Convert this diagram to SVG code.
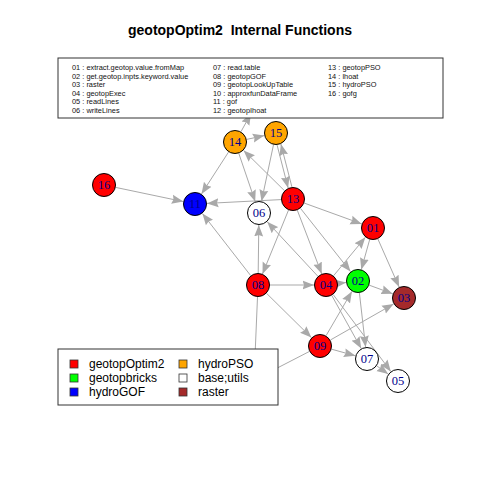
<svg xmlns="http://www.w3.org/2000/svg" width="480" height="480" viewBox="0 0 480 480">
<style>
.e{stroke:#A9A9A9;stroke-width:1;fill:none}
.ea{stroke:#A9A9A9;stroke-width:1;fill:none;marker-end:url(#arr)}
.n{stroke:#000;stroke-width:1}
.nl{font-family:"Liberation Serif",serif;font-size:12.5px;fill:#00008B;text-anchor:middle}
.lg{font-family:"Liberation Sans",Arial,sans-serif;font-size:7.4px;fill:#111}
.lg2{font-family:"Liberation Sans",Arial,sans-serif;font-size:12px;fill:#000}
.box{fill:#fff;stroke:#333;stroke-width:1}
.sq{stroke:#333;stroke-width:0.8}
</style>
<defs>
<marker id="arr" markerUnits="userSpaceOnUse" markerWidth="12" markerHeight="10" viewBox="0 0 12 10" refX="11.5" refY="5" orient="auto">
<path d="M0,0.5 L11.5,5 L0,9.5 L1.5,5 z" fill="#A9A9A9"/>
</marker>
</defs>
<rect width="480" height="480" fill="#fff"/>
<text x="240" y="35" style="white-space:pre" font-family="'Liberation Sans',Arial,sans-serif" font-size="14" font-weight="bold" text-anchor="middle">geotopOptim2  Internal Functions</text>
<g id="edges">
<line class="ea" x1="115.7" y1="187.4" x2="183.3" y2="201.6"/>
<line class="ea" x1="228.5" y1="152.1" x2="201.5" y2="193.9"/>
<line class="ea" x1="281.0" y1="199.6" x2="207.0" y2="203.4"/>
<line class="ea" x1="250.6" y1="275.5" x2="202.4" y2="213.5"/>
<line class="ea" x1="238.8" y1="153.4" x2="255.2" y2="201.6"/>
<line class="ea" x1="273.5" y1="144.7" x2="261.5" y2="201.3"/>
<line class="ea" x1="258.2" y1="273" x2="258.8" y2="225"/>
<line class="ea" x1="317.8" y1="276.2" x2="267.2" y2="221.8"/>
<line class="ea" x1="291.9" y1="186.9" x2="280.9" y2="144.1"/>
<line class="ea" x1="277.1" y1="145.1" x2="288.1" y2="187.9"/>
<line class="ea" x1="284.4" y1="190.6" x2="243.6" y2="150.4"/>
<line class="ea" x1="246.7" y1="139.4" x2="264.3" y2="135.6"/>
<line class="ea" x1="241.0" y1="131.6" x2="251.0" y2="113.6"/>
<line class="ea" x1="288.5" y1="210.1" x2="262.5" y2="273.9"/>
<line class="ea" x1="297.3" y1="210.2" x2="321.7" y2="273.8"/>
<line class="ea" x1="300.5" y1="208.4" x2="350.5" y2="271.6"/>
<line class="ea" x1="304.3" y1="203.1" x2="361.7" y2="223.9"/>
<line class="ea" x1="333.6" y1="275.7" x2="365.4" y2="237.3"/>
<line class="ea" x1="369.7" y1="239.5" x2="361.3" y2="269.5"/>
<line class="ea" x1="377.9" y1="239.0" x2="399.1" y2="287.0"/>
<line class="ea" x1="337.9" y1="283.5" x2="346.1" y2="282.5"/>
<line class="ea" x1="369.3" y1="285.2" x2="392.7" y2="293.8"/>
<line class="ea" x1="270" y1="285" x2="314" y2="285"/>
<line class="ea" x1="266.6" y1="293.4" x2="311.4" y2="337.6"/>
<line class="ea" x1="326.1" y1="335.6" x2="351.9" y2="291.4"/>
<line class="ea" x1="330.4" y1="340.0" x2="393.6" y2="304.0"/>
<line class="ea" x1="331.6" y1="349.2" x2="355.4" y2="355.8"/>
<line class="ea" x1="331.8" y1="295.5" x2="361.2" y2="348.5"/>
<line class="ea" x1="333.2" y1="294.6" x2="390.8" y2="371.4"/>
<line class="ea" x1="359.4" y1="292.9" x2="365.6" y2="347.1"/>
<line class="ea" x1="376.8" y1="365.9" x2="388.2" y2="374.1"/>
<line class="e" x1="257.5" y1="297" x2="254" y2="380"/>
<line class="e" x1="309.3" y1="351.5" x2="254" y2="380"/>
</g>
<g id="n16"><circle class="n" cx="104" cy="185" r="11.5" fill="#FF0000"/><text class="nl" x="104" y="189.3">16</text></g>
<g id="n11"><circle class="n" cx="195" cy="204" r="11.5" fill="#0000FF"/><text class="nl" x="195" y="208.3">11</text></g>
<g id="n14"><circle class="n" cx="235" cy="142" r="11.5" fill="#FFA500"/><text class="nl" x="235" y="146.3">14</text></g>
<g id="n15"><circle class="n" cx="276" cy="133" r="11.5" fill="#FFA500"/><text class="nl" x="276" y="137.3">15</text></g>
<g id="n06"><circle class="n" cx="259" cy="213" r="11.5" fill="#FFFFFF"/><text class="nl" x="259" y="217.3">06</text></g>
<g id="n13"><circle class="n" cx="293" cy="199" r="11.5" fill="#FF0000"/><text class="nl" x="293" y="203.3">13</text></g>
<g id="n01"><circle class="n" cx="373" cy="228" r="11.5" fill="#FF0000"/><text class="nl" x="373" y="232.3">01</text></g>
<g id="n08"><circle class="n" cx="258" cy="285" r="11.5" fill="#FF0000"/><text class="nl" x="258" y="289.3">08</text></g>
<g id="n04"><circle class="n" cx="326" cy="285" r="11.5" fill="#FF0000"/><text class="nl" x="326" y="289.3">04</text></g>
<g id="n02"><circle class="n" cx="358" cy="281" r="11.5" fill="#00FF00"/><text class="nl" x="358" y="285.3">02</text></g>
<g id="n03"><circle class="n" cx="404" cy="298" r="11.5" fill="#A52A2A"/><text class="nl" x="404" y="302.3">03</text></g>
<g id="n09"><circle class="n" cx="320" cy="346" r="11.5" fill="#FF0000"/><text class="nl" x="320" y="350.3">09</text></g>
<g id="n07"><circle class="n" cx="367" cy="359" r="11.5" fill="#FFFFFF"/><text class="nl" x="367" y="363.3">07</text></g>
<g id="n05"><circle class="n" cx="398" cy="381" r="11.5" fill="#FFFFFF"/><text class="nl" x="398" y="385.3">05</text></g>
<g id="legend-top">
<rect class="box" x="58" y="58" width="385" height="60"/>
<text class="lg" x="72" y="70.2">01 : extract.geotop.value.fromMap</text>
<text class="lg" x="72" y="78.7">02 : get.geotop.inpts.keyword.value</text>
<text class="lg" x="72" y="87.2">03 : raster</text>
<text class="lg" x="72" y="95.7">04 : geotopExec</text>
<text class="lg" x="72" y="104.2">05 : readLines</text>
<text class="lg" x="72" y="112.7">06 : writeLines</text>
<text class="lg" x="213" y="70.2">07 : read.table</text>
<text class="lg" x="213" y="78.7">08 : geotopGOF</text>
<text class="lg" x="213" y="87.2">09 : geotopLookUpTable</text>
<text class="lg" x="213" y="95.7">10 : approxfunDataFrame</text>
<text class="lg" x="213" y="104.2">11 : gof</text>
<text class="lg" x="213" y="112.7">12 : geotopIhoat</text>
<text class="lg" x="328" y="70.2">13 : geotopPSO</text>
<text class="lg" x="328" y="78.7">14 : lhoat</text>
<text class="lg" x="328" y="87.2">15 : hydroPSO</text>
<text class="lg" x="328" y="95.7">16 : gofg</text>
</g>
<g id="legend-bottom">
<rect class="box" x="58" y="349" width="220" height="56"/>
<rect class="sq" x="70" y="360" width="8" height="8" fill="#FF0000"/>
<rect class="sq" x="70" y="374" width="8" height="8" fill="#00FF00"/>
<rect class="sq" x="70" y="388" width="8" height="8" fill="#0000FF"/>
<rect class="sq" x="179" y="360" width="8" height="8" fill="#FFA500"/>
<rect class="sq" x="179" y="374" width="8" height="8" fill="#FFFFFF"/>
<rect class="sq" x="179" y="388" width="8" height="8" fill="#A52A2A"/>
<text class="lg2" x="89" y="368.3">geotopOptim2</text>
<text class="lg2" x="89" y="382.3">geotopbricks</text>
<text class="lg2" x="89" y="396.3">hydroGOF</text>
<text class="lg2" x="198" y="368.3">hydroPSO</text>
<text class="lg2" x="198" y="382.3">base;utils</text>
<text class="lg2" x="198" y="396.3">raster</text>
</g>
</svg>
